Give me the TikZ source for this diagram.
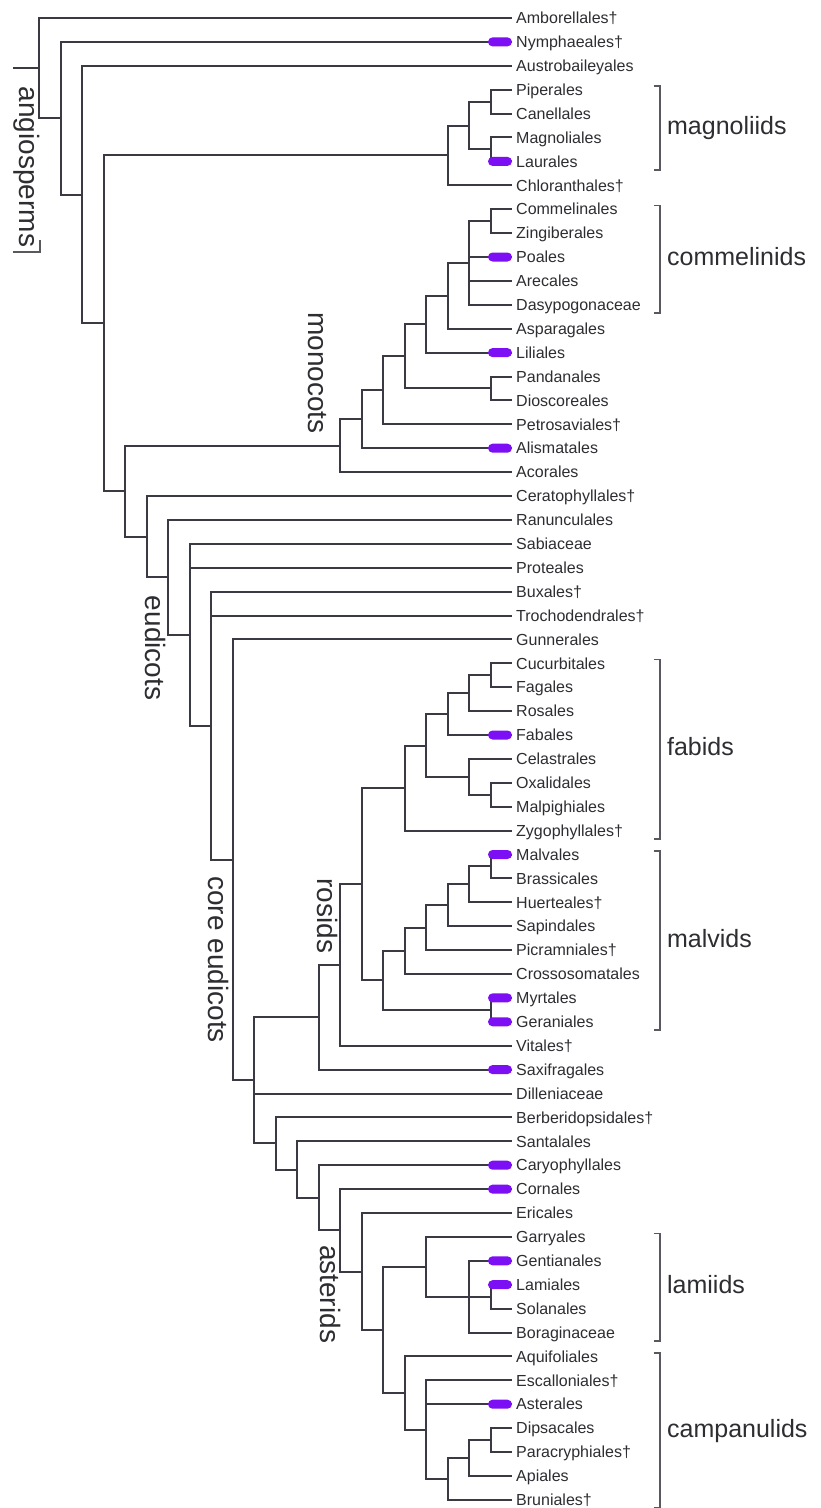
\documentclass[tikz,border=0pt]{standalone}
\usepackage{fontspec}
\setmainfont{Liberation Sans}
\usepackage{tikz}
\usetikzlibrary{positioning,calc}

\definecolor{treeline}{RGB}{58,58,68}
\definecolor{orderviolet}{RGB}{125,15,245}
\definecolor{labelgray}{RGB}{45,45,50}

\tikzset{
  branch/.style={draw=treeline, line width=2pt, to path={|- (\tikztotarget)}},
  leaf/.style={anchor=west, inner xsep=4pt, inner ysep=0pt, text height=14.5pt,
    text depth=3pt, text=labelgray, font=\fontsize{16pt}{18pt}\selectfont},
  orderdot/.style={fill=orderviolet, rounded corners=4.5pt, minimum width=24pt,
    minimum height=9pt, inner sep=0pt},
  cladebar/.style={draw=treeline!85, line width=1.5pt},
  cladetext/.style={inner sep=0pt, text height=18pt, text depth=5pt, text=labelgray,
    font=\fontsize{25pt}{28pt}\selectfont},
  groupname/.style={rotate=-90, inner sep=0pt, text height=20pt, text depth=6pt,
    text=labelgray, font=\fontsize{28pt}{32pt}\selectfont},
}

\begin{document}
\begin{tikzpicture}[x=21.5pt, y=-23.9pt, every edge/.style={branch}]
  \fill[white] (-1.814,0.247) rectangle (36.326,63.343);
  \useasboundingbox (-1.814,0.247) rectangle (36.326,63.343);

  % orders
  \foreach \name [count=\i] in {Amborellales†, Nymphaeales†, Austrobaileyales,
      Piperales, Canellales, Magnoliales, Laurales, Chloranthales†, Commelinales,
      Zingiberales, Poales, Arecales, Dasypogonaceae, Asparagales, Liliales,
      Pandanales, Dioscoreales, Petrosaviales†, Alismatales, Acorales,
      Ceratophyllales†, Ranunculales, Sabiaceae, Proteales, Buxales†,
      Trochodendrales†, Gunnerales, Cucurbitales, Fagales, Rosales, Fabales,
      Celastrales, Oxalidales, Malpighiales, Zygophyllales†, Malvales, Brassicales,
      Huerteales†, Sapindales, Picramniales†, Crossosomatales, Myrtales, Geraniales,
      Vitales†, Saxifragales, Dilleniaceae, Berberidopsidales†, Santalales,
      Caryophyllales, Cornales, Ericales, Garryales, Gentianales, Lamiales,
      Solanales, Boraginaceae, Aquifoliales, Escalloniales†, Asterales, Dipsacales,
      Paracryphiales†, Apiales, Bruniales†}
    \node[leaf] (t\i) at (22,\i) {\name};

  % backbone
  \coordinate (stem) at (-1.21,3.1);
  \coordinate (root) at (0,3.1);
  \coordinate (a1) at (1,5.2);
  \coordinate (a2) at (2,8.39);
  \coordinate (a3) at (3,13.78);
  \coordinate (meso) at (4,20.8);
  % magnoliids
  \coordinate (mag) at (19,6.75);
  \coordinate (mag1) at (20,5.5);
  \coordinate (mag2) at (21,4.5);
  \coordinate (mag3) at (21,6.5);
  % monocots
  \coordinate (mono) at (14,18.9);
  \coordinate (mono1) at (15,17.79);
  \coordinate (mono2) at (16,16.58);
  \coordinate (mono3) at (17,15.16);
  \coordinate (mono4) at (18,13.81);
  \coordinate (mono5) at (21,16.5);
  \coordinate (com0) at (19,12.63);
  \coordinate (com) at (20,11.25);
  \coordinate (com1) at (21,9.5);
  % eudicots
  \coordinate (eud) at (5,22.7);
  \coordinate (eud1) at (6,24.4);
  \coordinate (eud2) at (7,26.8);
  \coordinate (eud3) at (8,30.61);
  \coordinate (eud4) at (9,36.22);
  \coordinate (core) at (10,45.45);
  % rosids
  \coordinate (sup) at (13,42.81);
  \coordinate (ros0) at (14,40.62);
  \coordinate (ros) at (15,37.24);
  \coordinate (fab) at (17,33.22);
  \coordinate (fab1) at (18,31.44);
  \coordinate (fab2) at (19,30.13);
  \coordinate (fab3) at (20,29.25);
  \coordinate (fab4) at (20,32.75);
  \coordinate (fab5) at (21,28.5);
  \coordinate (fab6) at (21,33.5);
  \coordinate (malv) at (16,41.27);
  \coordinate (malv1) at (17,40.03);
  \coordinate (malv2) at (18,39.06);
  \coordinate (malv3) at (19,38.13);
  \coordinate (malv4) at (20,37.25);
  \coordinate (malv5) at (21,36.5);
  \coordinate (malv6) at (21,42.5);
  % asterids
  \coordinate (ast0) at (11,48.09);
  \coordinate (ast1) at (12,49.18);
  \coordinate (ast) at (13,50.36);
  \coordinate (ast2) at (14,51.72);
  \coordinate (ast3) at (15,53.45);
  \coordinate (ast4) at (16,55.89);
  \coordinate (lam) at (18,53.25);
  \coordinate (lam1) at (20,54.5);
  \coordinate (lam2) at (21,54.5);
  \coordinate (camp) at (17,58.53);
  \coordinate (camp1) at (18,60.06);
  \coordinate (camp2) at (19,62.13);
  \coordinate (camp3) at (20,61.25);
  \coordinate (camp4) at (21,60.5);

  % branches
  \draw[branch] (stem) -- (root);
  \path (root) edge (t1) edge (a1);
  \path (a1) edge (t2) edge (a2);
  \path (a2) edge (t3) edge (a3);
  \path (a3) edge (mag) edge (meso);
  \path (meso) edge (mono) edge (eud);

  \path (mag) edge (mag1) edge (t8);
  \path (mag1) edge (mag2) edge (mag3);
  \path (mag2) edge (t4) edge (t5);
  \path (mag3) edge (t6) edge (t7);

  \path (mono) edge (mono1) edge (t20);
  \path (mono1) edge (mono2) edge (t19);
  \path (mono2) edge (mono3) edge (t18);
  \path (mono3) edge (mono4) edge (mono5);
  \path (mono5) edge (t16) edge (t17);
  \path (mono4) edge (com0) edge (t15);
  \path (com0) edge (com) edge (t14);
  \path (com) edge (com1) edge (t11) edge (t12) edge (t13);
  \path (com1) edge (t9) edge (t10);

  \path (eud) edge (t21) edge (eud1);
  \path (eud1) edge (t22) edge (eud2);
  \path (eud2) edge (t23) edge (t24) edge (eud3);
  \path (eud3) edge (t25) edge (t26) edge (eud4);
  \path (eud4) edge (t27) edge (core);
  \path (core) edge (sup) edge (t46) edge (ast0);

  \path (sup) edge (ros0) edge (t45);
  \path (ros0) edge (ros) edge (t44);
  \path (ros) edge (fab) edge (malv);
  \path (fab) edge (fab1) edge (t35);
  \path (fab1) edge (fab2) edge (fab4);
  \path (fab2) edge (fab3) edge (t31);
  \path (fab3) edge (fab5) edge (t30);
  \path (fab5) edge (t28) edge (t29);
  \path (fab4) edge (t32) edge (fab6);
  \path (fab6) edge (t33) edge (t34);
  \path (malv) edge (malv1) edge (malv6);
  \path (malv1) edge (malv2) edge (t41);
  \path (malv2) edge (malv3) edge (t40);
  \path (malv3) edge (malv4) edge (t39);
  \path (malv4) edge (malv5) edge (t38);
  \path (malv5) edge (t36) edge (t37);
  \path (malv6) edge (t42) edge (t43);

  \path (ast0) edge (t47) edge (ast1);
  \path (ast1) edge (t48) edge (ast);
  \path (ast) edge (t49) edge (ast2);
  \path (ast2) edge (t50) edge (ast3);
  \path (ast3) edge (t51) edge (ast4);
  \path (ast4) edge (lam) edge (camp);
  \path (lam) edge (t52) edge (lam1);
  \path (lam1) edge (t53) edge (lam2) edge (t56);
  \path (lam2) edge (t54) edge (t55);
  \path (camp) edge (t57) edge (camp1);
  \path (camp1) edge (t58) edge (t59) edge (camp2);
  \path (camp2) edge (camp3) edge (t63);
  \path (camp3) edge (camp4) edge (t62);
  \path (camp4) edge (t60) edge (t61);

  % sampled orders
  \foreach \i in {2,7,11,15,19,31,36,42,43,45,49,50,53,54,59}
    \node[orderdot] (dot\i) at ([xshift=-12pt]t\i.west) {};

  % clade brackets
  \foreach \grp/\a/\b in {magnoliids/4/7, commelinids/9/13, fabids/28/35,
      malvids/36/43, lamiids/52/56, campanulids/57/63} {
    \coordinate (\grp-top) at (28.88,{\a-0.15});
    \coordinate (\grp-bot) at (28.88,{\b+0.35});
    \coordinate (\grp-mid) at ($(\grp-top)!0.5!(\grp-bot)$);
    \draw[cladebar] ([xshift=-6pt]\grp-top) -- (\grp-top) -- (\grp-bot)
      -- ([xshift=-6pt]\grp-bot);
    \node[cladetext, right=7pt of \grp-mid] (\grp) {\grp};
  }

  % angiosperms
  \coordinate (angio-a) at (-1.21,10.8);
  \coordinate (angio-b) at (0.05,10.8);
  \coordinate (angio-c) at (0.05,10.3);
  \draw[cladebar] (angio-a) -- (angio-b) -- (angio-c);
  \node[groupname] (angio) at (-0.56,7.23) {angiosperms};
  \node[groupname] (monocots) at (12.88,15.85) {monocots};
  \node[groupname] (eudicots) at (5.26,27.36) {eudicots};
  \node[groupname] (coreeud) at (8.19,40.4) {core eudicots};
  \node[groupname] (rosids) at (13.3,38.57) {rosids};
  \node[groupname] (asterids) at (13.4,54.39) {asterids};
\end{tikzpicture}
\end{document}
